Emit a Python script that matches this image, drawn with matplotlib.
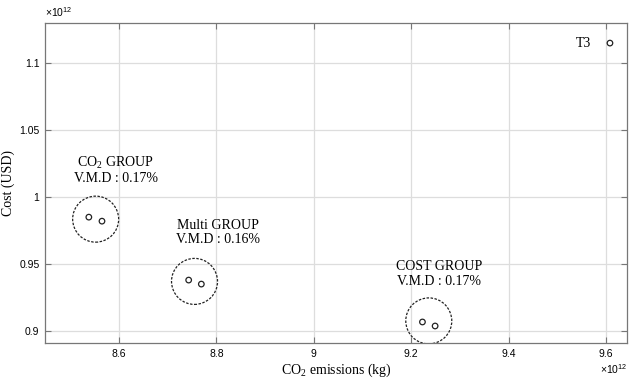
import matplotlib.pyplot as plt
from matplotlib.ticker import FuncFormatter

plt.rcParams['mathtext.fontset'] = 'custom'
plt.rcParams['mathtext.rm'] = 'Liberation Serif'
plt.rcParams['mathtext.it'] = 'Liberation Serif:italic'
plt.rcParams['mathtext.sf'] = 'Liberation Sans'

# values in units of 1e12
co2_x = [8.538, 8.565]
co2_y = [0.985, 0.982]
multi_x = [8.743, 8.769]
multi_y = [0.938, 0.935]
cost_x = [9.223, 9.249]
cost_y = [0.9067, 0.9037]
t3_x = [9.608]
t3_y = [1.115]

circle_x = [8.552, 8.755, 9.236]
circle_y = [0.9835, 0.9370, 0.9075]
labels = ['CO$_2$ GROUP\nV.M.D : 0.17%',
          'Multi GROUP\nV.M.D : 0.16%',
          'COST GROUP\nV.M.D : 0.17%']
label_dx = [20, 23, 10]   # px
label_dy = [34, 35, 33]   # px

fig = plt.figure(figsize=(6.34, 3.82), dpi=100)
ax = fig.add_axes([45 / 634, 1 - 343 / 382, 582 / 634, 320 / 382])

serif = 'Liberation Serif'
sans = 'Liberation Sans'
px = 0.72  # points per pixel

for gx, gy in [(co2_x, co2_y), (multi_x, multi_y), (cost_x, cost_y), (t3_x, t3_y)]:
    ax.scatter(gx, gy, s=16, facecolors='none', edgecolors='#222222', linewidths=0.9, zorder=3)

ax.scatter(circle_x, circle_y, s=(46 * px) ** 2, facecolors='none', edgecolors='#222222',
           linewidths=0.9, linestyles=(0, (2, 1.2)), zorder=3)

for cx, cy, label, dx, dy in zip(circle_x, circle_y, labels, label_dx, label_dy):
    ax.annotate(label, (cx, cy), xytext=(dx * px, dy * px), textcoords='offset points',
                ha='center', va='bottom', fontsize=10, family=serif, linespacing=1.15)

ax.annotate('T3', (t3_x[0], t3_y[0]), xytext=(-27 * px, 0), textcoords='offset points',
            ha='center', va='center', fontsize=10, family=serif)

ax.set_xlim(8.448, 9.643)
ax.set_ylim(0.891, 1.13)
ax.set_xticks([8.6, 8.8, 9.0, 9.2, 9.4, 9.6])
ax.set_yticks([0.9, 0.95, 1.0, 1.05, 1.1])
fmt = FuncFormatter(lambda v, p: ('%g' % round(v, 3)))
ax.xaxis.set_major_formatter(fmt)
ax.yaxis.set_major_formatter(fmt)
ax.tick_params(direction='in', length=4, width=0.8, color='#777777', labelsize=7.5,
               top=True, right=True, pad=4)
for lab in ax.get_xticklabels() + ax.get_yticklabels():
    lab.set_family(sans)
for sp in ax.spines.values():
    sp.set_color('#777777')
    sp.set_linewidth(0.9)
ax.grid(True, color='#dddddd', linewidth=0.9)
ax.set_axisbelow(True)

ax.set_xlabel('CO$_2$ emissions (kg)', fontsize=10, family=serif, labelpad=2)
ax.set_ylabel('Cost (USD)', fontsize=10, family=serif, labelpad=3)

exp_txt = r'$\mathsf{\times10^{12}}$'
ax.text(0.0, 1.012, exp_txt, transform=ax.transAxes, fontsize=7.5,
        ha='left', va='bottom')
ax.text(1.0, -0.06, exp_txt, transform=ax.transAxes, fontsize=7.5,
        ha='right', va='top')

fig.savefig('out.png', dpi=100)
